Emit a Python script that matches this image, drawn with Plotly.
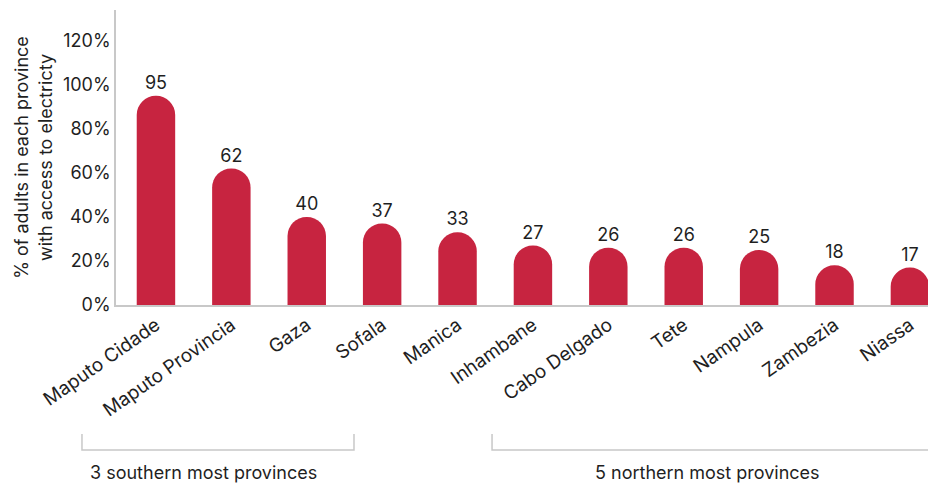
import plotly.graph_objects as go

provinces = ["Maputo Cidade", "Maputo Provincia", "Gaza", "Sofala", "Manica",
             "Inhambane", "Cabo Delgado", "Tete", "Nampula", "Zambezia", "Niassa"]
access_pct = [95, 62, 40, 37, 33, 27, 26, 26, 25, 18, 17]
y_ticks = [0, 20, 40, 60, 80, 100, 120]
y_tick_labels = [f"{v}%" for v in y_ticks]
group_labels = ["3 southern most provinces", "5 northern most provinces"]

FONT = "Inter, Roboto, sans-serif"
TXT = "#1f1f1f"
RED = "#C72440"
FS = 18

fig = go.Figure(go.Bar(
    x=list(range(len(provinces))),
    y=access_pct,
    marker=dict(color=RED, cornerradius="50%", line=dict(width=0)),
    text=[str(v) for v in access_pct],
    textposition="outside",
    textfont=dict(size=FS, color=TXT, family=FONT),
    cliponaxis=False,
))

fig.update_layout(
    width=928, height=486,
    margin=dict(l=116, r=0, t=10, b=181),
    plot_bgcolor="white", paper_bgcolor="white",
    bargap=0.49,
    showlegend=False,
    font=dict(family=FONT, size=FS, color=TXT),
    xaxis=dict(
        range=[-0.53, 10.24],
        tickmode="array",
        tickvals=list(range(len(provinces))),
        ticktext=provinces,
        tickangle=-35,
        showgrid=False,
        showline=True, linecolor="#c8c8c8", linewidth=1.5,
        ticks="", zeroline=False,
        tickfont=dict(size=19, color=TXT),
    ),
    yaxis=dict(
        range=[0, 134],
        tickmode="array",
        tickvals=y_ticks,
        ticktext=y_tick_labels,
        showgrid=False,
        showline=True, linecolor="#c8c8c8", linewidth=1.5,
        ticks="", zeroline=False,
        tickfont=dict(size=FS, color=TXT),
        title=dict(text="% of adults in each province<br>with access to electricty",
                   font=dict(size=FS, color=TXT), standoff=6),
    ),
)

# group brackets (paper coordinates)
bracket_color = "#c8c8c8"
y_top, y_bot = -0.437, -0.4915
fig.add_shape(type="path", xref="paper", yref="paper",
              path=f"M -0.0419 {y_top} L -0.0419 {y_bot} L 0.2931 {y_bot} L 0.2931 {y_top}",
              line=dict(color=bracket_color, width=1.5))
fig.add_shape(type="path", xref="paper", yref="paper",
              path=f"M 0.4631 {y_top} L 0.4631 {y_bot} L 1.0 {y_bot}",
              line=dict(color=bracket_color, width=1.5))

fig.add_annotation(xref="paper", yref="paper", x=-0.034, y=-0.569,
                   text=group_labels[0], showarrow=False, xanchor="left", yanchor="middle",
                   font=dict(size=FS, color=TXT))
fig.add_annotation(xref="paper", yref="paper", x=0.7290, y=-0.569,
                   text=group_labels[1], showarrow=False, xanchor="center", yanchor="middle",
                   font=dict(size=FS, color=TXT))

fig.write_html("out.html",
               config={"displayModeBar": False},
               post_script="document.body.style.margin='0';document.body.style.padding='0';")
